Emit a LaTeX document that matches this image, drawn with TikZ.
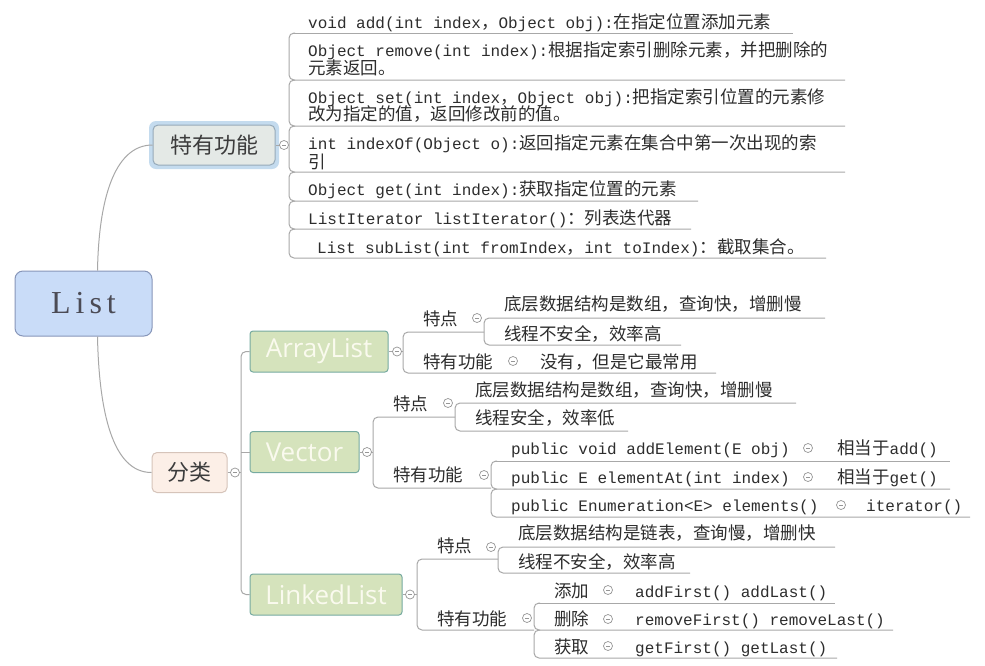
\documentclass[tikz,border=0pt]{standalone}
\usepackage{fontspec}
\setmainfont{Noto Sans CJK SC}
\newfontfamily\codefont{Liberation Mono}
\newfontfamily\uifont{Open Sans}
\newfontfamily\serfont{Liberation Serif}
\newcommand\cd[1]{{\codefont\fontsize{16}{18}\selectfont #1}}
\definecolor{listfill}{RGB}{201,220,248}
\definecolor{listdraw}{RGB}{135,150,185}
\definecolor{listtext}{RGB}{75,75,85}
\definecolor{tygfill}{RGB}{228,233,230}
\definecolor{tygdraw}{RGB}{150,170,185}
\definecolor{glowc}{RGB}{196,219,238}
\definecolor{flfill}{RGB}{252,239,231}
\definecolor{fldraw}{RGB}{214,196,186}
\definecolor{grfill}{RGB}{213,227,188}
\definecolor{grdraw}{RGB}{118,170,160}
\definecolor{grtext}{RGB}{250,250,238}
\definecolor{linec}{RGB}{168,168,168}
\definecolor{txt}{RGB}{45,45,45}
\definecolor{circc}{RGB}{150,150,150}
\begin{document}
\begin{tikzpicture}[x=1pt,y=-1pt,
  ln/.style={draw=linec, line width=1pt, rounded corners=5pt},
  lf/.style={anchor=base west, inner sep=0pt, text=txt, font=\fontsize{17.5}{18}\selectfont},
  mc/.style={circle, draw=circc, fill=white, line width=0.7pt, minimum size=9pt, inner sep=0pt,
    path picture={\draw[circc,line width=0.6pt] ([xshift=-2.2pt]path picture bounding box.center) -- ([xshift=2.2pt]path picture bounding box.center);}},
  listbox/.style={rectangle, rounded corners=8pt, fill=listfill, draw=listdraw, line width=1pt,
    minimum width=137pt, minimum height=65pt, inner sep=0pt, text=listtext, font=\serfont\fontsize{32}{32}\selectfont},
  tygbox/.style={rectangle, rounded corners=5pt, fill=tygfill, draw=tygdraw, line width=1pt,
    minimum width=122pt, minimum height=40pt, inner sep=0pt, text={rgb,255:red,60;green,60;blue,60}, font=\fontsize{22}{22}\selectfont},
  glowbox/.style={rectangle, rounded corners=7pt, fill=glowc, minimum width=130pt, minimum height=48pt, inner sep=0pt},
  flbox/.style={rectangle, rounded corners=5pt, fill=flfill, draw=fldraw, line width=1pt,
    minimum width=75pt, minimum height=40pt, inner sep=0pt, text={rgb,255:red,60;green,60;blue,60}, font=\fontsize{22}{22}\selectfont},
  grbox/.style={rectangle, rounded corners=3pt, fill=grfill, draw=grdraw, line width=1pt,
    minimum height=41pt, inner sep=0pt, text=grtext, font=\uifont\fontsize{26}{26}\selectfont}
]
\useasboundingbox (0,0) rectangle (985,665);
\fill[white] (0,0) rectangle (985,665);

% main nodes
\node[listbox] (list) at (83.5,303.5) {L\kern5pt i\kern5pt s\kern5pt t};
\node[glowbox] (tygglow) at (214,145) {};
\node[tygbox] (tyg) at (214,145) {特有功能};
\node[flbox] (fl) at (189.5,472.5) {分类};
\node[grbox, minimum width=138pt] (al) at (319,351.5) {ArrayList};
\node[grbox, minimum width=109pt] (vc) at (304.5,452) {Vector};
\node[grbox, minimum width=152pt] (ll) at (326,594.5) {LinkedList};

% curves from List
\draw[ln] ([xshift=14pt]list.north) .. controls (99,190) and (118,145) .. (tyg.west);
\draw[ln] ([xshift=14pt]list.south) .. controls (99,410) and (112,472.5) .. (fl.west);

% top branch
\draw[ln] (tyg.east) -- (289,145);
\node[mc] (c0) at (284,145) {};
\draw[ln] (293,33) -- (793,33);
\draw[ln] (295,33) -- (289,33) -- (289,80) -- (845,80);
\draw[ln] (295,80) -- (289,80) -- (289,126) -- (845,126);
\draw[ln] (295,126) -- (289,126) -- (289,172) -- (845,172);
\draw[ln] (295,172) -- (289,172) -- (289,201) -- (698,201);
\draw[ln] (295,201) -- (289,201) -- (289,229) -- (691,229);
\draw[ln] (295,229) -- (289,229) -- (289,258) -- (826,258);

\node[lf] (t1) at (308,28.5) {\cd{void add(int index}，\cd{Object obj):}在指定位置添加元素};
\node[lf] (t2a) at (308,56.5) {\cd{Object remove(int index):}根据指定索引删除元素，并把删除的};
\node[lf] (t2b) at (308,74.5) {元素返回。};
\node[lf] (t3a) at (308,103.5) {\cd{Object set(int index}，\cd{Object obj):}把指定索引位置的元素修};
\node[lf] (t3b) at (308,120.5) {改为指定的值，返回修改前的值。};
\node[lf] (t4a) at (308,149.5) {\cd{int indexOf(Object o):}返回指定元素在集合中第一次出现的索};
\node[lf] (t4b) at (308,168) {引};
\node[lf] (t5) at (308,195.5) {\cd{Object get(int index):}获取指定位置的元素};
\node[lf] (t6) at (308,224.5) {\cd{ListIterator listIterator()}：列表迭代器};
\node[lf] (t7) at (317,253.5) {\cd{List subList(int fromIndex}，\cd{int toIndex)}：截取集合。};

% classification branch
\draw[ln] (fl.east) -- (241,472.5);
\node[mc] (c1) at (235,472.5) {};
\draw[ln] (al.west) -- (241,351.5) -- (241,594.5) -- (ll.west);
\draw[ln] (241,452) -- (vc.west);

% ArrayList
\draw[ln] (al.east) -- (403,351.5);
\node[mc] (c2) at (397,351.5) {};
\draw[ln] (484,332) -- (403,332) -- (403,373) -- (716,373);
\node[lf] (a1) at (423,325.5) {特点};
\node[mc] (c3) at (477,318) {};
\draw[ln] (825,318) -- (484,318) -- (484,345) -- (681,345);
\node[lf] (a11) at (504,310.5) {底层数据结构是数组，查询快，增删慢};
\node[lf] (a12) at (504,340) {线程不安全，效率高};
\node[lf] (a2) at (423,368) {特有功能};
\node[mc] (c4) at (513,361) {};
\node[lf] (a21) at (540,368) {没有，但是它最常用};

% Vector
\draw[ln] (vc.east) -- (373,452);
\node[mc] (c5) at (367,452) {};
\draw[ln] (455,417) -- (373,417) -- (373,488) -- (491,488);
\node[lf] (v1) at (393,410.5) {特点};
\node[mc] (c6) at (448,403) {};
\draw[ln] (796,403) -- (455,403) -- (455,431) -- (628,431);
\node[lf] (v11) at (475,396.5) {底层数据结构是数组，查询快，增删慢};
\node[lf] (v12) at (475,424.5) {线程安全，效率低};
\node[lf] (v2) at (393,481.5) {特有功能};
\node[mc] (c7) at (484,475) {};
\draw[ln] (495,461) -- (950,461);
\draw[ln] (497,461) -- (491,461) -- (491,489) -- (950,489);
\draw[ln] (497,489) -- (491,489) -- (491,517) -- (970,517);
\node[lf] (v21) at (511,454.5) {\cd{public void addElement(E obj)}};
\node[mc] (c8) at (808,448) {};
\node[lf] (v21a) at (837,454.5) {相当于\cd{add()}};
\node[lf] (v22) at (511,483.5) {\cd{public E elementAt(int index)}};
\node[mc] (c9) at (808,477) {};
\node[lf] (v22a) at (837,483.5) {相当于\cd{get()}};
\node[lf] (v23) at (511,511.5) {\cd{public Enumeration<E> elements()}};
\node[mc] (c10) at (841,505) {};
\node[lf] (v23a) at (866,511.5) {\cd{iterator()}};

% LinkedList
\draw[ln] (ll.east) -- (417,594.5);
\node[mc] (c11) at (410,594.5) {};
\draw[ln] (498,559) -- (417,559) -- (417,630) -- (534,630);
\node[lf] (l1) at (437,552.5) {特点};
\node[mc] (c12) at (491,547) {};
\draw[ln] (835,547) -- (498,547) -- (498,573) -- (690,573);
\node[lf] (l11) at (518,539.5) {底层数据结构是链表，查询慢，增删快};
\node[lf] (l12) at (518,568.5) {线程不安全，效率高};
\node[lf] (l2) at (437,625.5) {特有功能};
\node[mc] (c13) at (527,618) {};
\draw[ln] (538,603) -- (835,603);
\draw[ln] (540,603) -- (534,603) -- (534,630) -- (893,630);
\draw[ln] (540,630) -- (534,630) -- (534,658) -- (837,658);
\node[lf] (l21) at (554,597.5) {添加};
\node[mc] (c14) at (608,590) {};
\node[lf] (l21a) at (635,597.5) {\cd{addFirst() addLast()}};
\node[lf] (l22) at (554,625.5) {删除};
\node[mc] (c15) at (608,619) {};
\node[lf] (l22a) at (635,625.5) {\cd{removeFirst() removeLast()}};
\node[lf] (l23) at (554,653.5) {获取};
\node[mc] (c16) at (608,646) {};
\node[lf] (l23a) at (635,653.5) {\cd{getFirst() getLast()}};
\end{tikzpicture}
\end{document}
